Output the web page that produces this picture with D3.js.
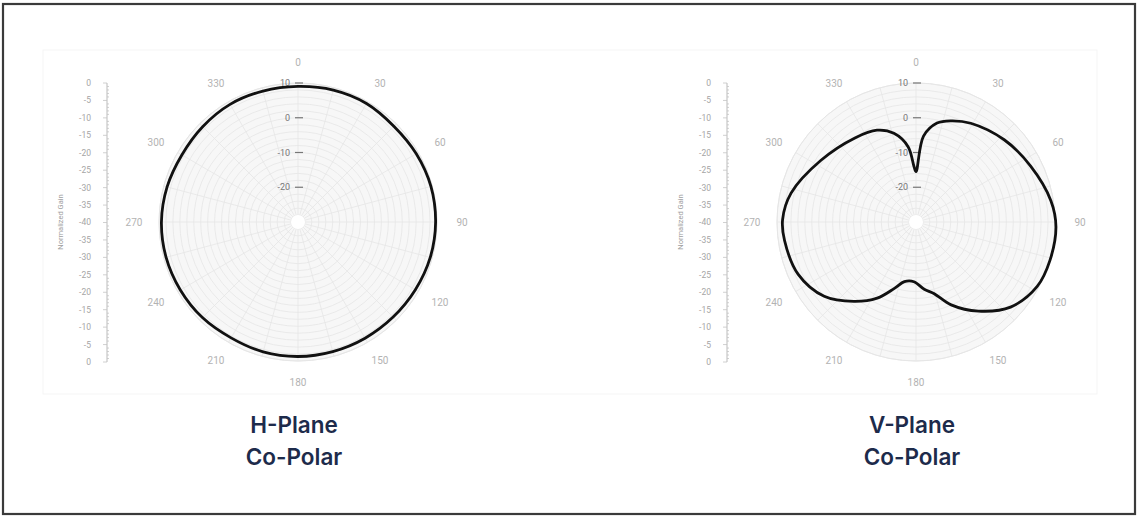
<!DOCTYPE html>
<html>
<head>
<meta charset="utf-8">
<script src="https://cdn.jsdelivr.net/npm/d3@7"></script>
<style>
  html, body { margin: 0; padding: 0; background: #fff; }
  svg { display: block; }
</style>
</head>
<body>
<svg id="chart" width="1139" height="518"></svg>
<script>
// ---- Data ----
const angleLabels = [0, 30, 60, 90, 120, 150, 180, 210, 240, 270, 300, 330];
const radialTicks = [10, 0, -10, -20];
const gainLabels = ["0","-5","-10","-15","-20","-25","-30","-35","-40","-35","-30","-25","-20","-15","-10","-5","0"];

const hAngles = [0, 15, 30, 45, 60, 75, 90, 105, 120, 135, 150, 165, 180, 195, 210, 225, 240, 255, 270, 285, 300, 315, 330, 345];
const hValues = [9.0, 9.3, 9.4, 9.0, 9.3, 9.6, 9.6, 9.4, 9.0, 8.7, 8.6, 8.6, 8.7, 8.7, 8.5, 8.9, 9.1, 9.3, 9.3, 9.0, 8.6, 8.8, 9.1, 9.0];

const vAngles = [0, 5, 12, 19, 29, 47, 64, 81, 92, 106, 118, 132, 145, 157, 166, 173, 182, 191, 198, 207, 218, 231, 246, 262, 271, 283, 303, 324, 337, 346, 354, 358];
const vValues = [-15.5, -5.2, -0.9, 0.8, 2.5, 4.7, 6.7, 9.3, 10.3, 10.1, 9.5, 6.6, 1.3, -4.1, -8.8, -10.5, -12.8, -12.5, -9.9, -5.4, -1.0, 4.0, 7.1, 8.2, 8.4, 6.9, 2.6, -0.1, -1.3, -3.7, -8.2, -14.1];

const titlesLeft = ["H-Plane", "Co-Polar"];
const titlesRight = ["V-Plane", "Co-Polar"];

// ---- Layout ----
const svg = d3.select("#chart");

// outer frame
svg.append("rect").attr("x", 3).attr("y", 4).attr("width", 1132).attr("height", 510)
  .attr("fill", "#fff").attr("stroke", "#3a3a3a").attr("stroke-width", 2.2);
// faint inner panel
svg.append("rect").attr("x", 43).attr("y", 50).attr("width", 1054).attr("height", 344)
  .attr("fill", "#fff").attr("stroke", "#f5f5f5").attr("stroke-width", 1);

const R = 139;
const rScale = d3.scaleLinear().domain([-30, 10]).range([0, R]);

function polar(cx, cy, angles, values, titles, axisX) {
  const g = svg.append("g").attr("transform", `translate(${cx},${cy})`);
  g.append("circle").attr("r", R).attr("fill", "#f7f7f7").attr("stroke", "#e6e6e6");
  // grid circles every 2 dB
  const rings = d3.range(-28, 10.01, 2);
  g.selectAll("circle.ring").data(rings).join("circle").attr("class", "ring")
    .attr("r", d => rScale(d)).attr("fill", "none").attr("stroke", "#e6e6e6").attr("stroke-width", 0.8);
  // spokes every 15 deg
  const spokes = d3.range(0, 360, 15);
  g.selectAll("line.spoke").data(spokes).join("line").attr("class", "spoke")
    .attr("x1", d => 7 * Math.sin(d * Math.PI / 180)).attr("y1", d => -7 * Math.cos(d * Math.PI / 180))
    .attr("x2", d => R * Math.sin(d * Math.PI / 180)).attr("y2", d => -R * Math.cos(d * Math.PI / 180))
    .attr("stroke", "#e6e6e6").attr("stroke-width", 0.8);
  g.append("circle").attr("r", 7).attr("fill", "#fff");

  // angle labels
  g.selectAll("text.ang").data(angleLabels).join("text").attr("class", "ang")
    .attr("x", d => 164 * Math.sin(d * Math.PI / 180))
    .attr("y", d => -160 * Math.cos(d * Math.PI / 180))
    .attr("dy", "0.35em").attr("text-anchor", "middle")
    .attr("font-family", "Roboto, 'Open Sans', sans-serif").attr("font-size", 10).attr("fill", "#b3b3b3")
    .text(d => d);

  // radial ticks
  const rt = g.selectAll("g.rt").data(radialTicks).join("g").attr("class", "rt")
    .attr("transform", d => `translate(0,${-rScale(d)})`);
  rt.append("line").attr("x1", -3).attr("x2", 5).attr("stroke", "#777").attr("stroke-width", 1.2);
  rt.append("text").attr("x", -8).attr("dy", "0.35em").attr("text-anchor", "end")
    .attr("font-family", "Roboto, 'Open Sans', sans-serif").attr("font-size", 9).attr("fill", "#777")
    .text(d => d);

  // data curve
  const pts = angles.map((a, i) => [a, values[i]]);
  const line = d3.lineRadial()
    .angle(d => d[0] * Math.PI / 180)
    .radius(d => rScale(d[1]))
    .curve(d3.curveCatmullRomClosed.alpha(0.5));
  g.append("path").attr("d", line(pts)).attr("fill", "none")
    .attr("stroke", "#111").attr("stroke-width", 2.8).attr("stroke-linejoin", "round");

  // vertical gain axis
  const yS = d3.scaleLinear().domain([0, gainLabels.length - 1]).range([83, 362]);
  const ag = svg.append("g").attr("transform", `translate(${axisX},0)`);
  ag.append("line").attr("y1", 83).attr("y2", 362).attr("stroke", "#bbb").attr("stroke-width", 1);
  const minor = d3.range(0, gainLabels.length - 1 + 0.001, 0.2);
  ag.selectAll("line.mn").data(minor).join("line").attr("class", "mn")
    .attr("x1", 0).attr("x2", d => Math.abs(d - Math.round(d)) < 0.01 ? -4 : 2)
    .attr("y1", d => yS(d)).attr("y2", d => yS(d)).attr("stroke", "#c4c4c4").attr("stroke-width", 0.8);
  ag.selectAll("text.gl").data(gainLabels).join("text").attr("class", "gl")
    .attr("x", -16).attr("y", (d, i) => yS(i)).attr("dy", "0.35em").attr("text-anchor", "end")
    .attr("font-family", "Roboto, 'Open Sans', sans-serif").attr("font-size", 8.5).attr("fill", "#a5a5a5")
    .text(d => d);
  ag.append("text").attr("transform", `translate(-47,222) rotate(-90)`)
    .attr("text-anchor", "middle").attr("dy", "0.35em")
    .attr("font-family", "Roboto, 'Open Sans', sans-serif").attr("font-size", 7.5).attr("fill", "#a0a0a0")
    .text("Normalized Gain");

  // titles
  svg.selectAll(null).data(titles).join("text")
    .attr("x", cx - 4).attr("y", (d, i) => 433 + i * 32)
    .attr("text-anchor", "middle")
    .attr("font-family", "Inter, 'Open Sans', sans-serif").attr("font-weight", 600)
    .attr("font-size", 22.5).attr("fill", "#1d2b4b")
    .text(d => d);
}

polar(298, 222, hAngles, hValues, titlesLeft, 107);
polar(916, 222, vAngles, vValues, titlesRight, 727);
</script>
</body>
</html>
